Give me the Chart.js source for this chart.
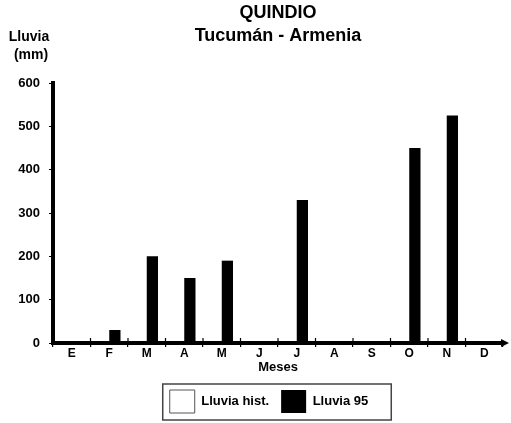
<!DOCTYPE html>
<html>
<head>
<meta charset="utf-8">
<script src="https://cdn.jsdelivr.net/npm/chart.js@4/dist/chart.umd.min.js"></script>
<style>
  html, body { margin: 0; padding: 0; background: #fff; }
  #wrap { width: 511px; height: 423px; }
</style>
</head>
<body>
<div id="wrap"><canvas id="c" width="511" height="423"></canvas></div>
<script>
// ---- Data
const months = ['E','F','M','A','M','J','J','A','S','O','N','D'];
const lluviaHist = [null,null,null,null,null,null,null,null,null,null,null,null];
const lluvia95 = [null,30,200,150,190,null,330,null,null,450,525,null];
const yTicks = [0,100,200,300,400,500,600];

const FONT = '"Liberation Sans", Arial, Helvetica, sans-serif';
const LEGEND_SHIFT = -9;

// ---- Extra drawing: y label, arrow, legend frame
const extras = {
  id: 'extras',
  afterLayout(chart) {
    // legend sits a bit left of the plot centre in the original
    const lg = chart.legend;
    lg.left += LEGEND_SHIFT;
    lg.right += LEGEND_SHIFT;
    (lg.legendHitBoxes || []).forEach(h => { h.left += LEGEND_SHIFT; });
  },
  afterDraw(chart) {
    const ctx = chart.ctx;
    const a = chart.chartArea;
    ctx.save();
    ctx.fillStyle = '#000';
    ctx.font = 'bold 14px ' + FONT;
    ctx.textAlign = 'center';
    ctx.textBaseline = 'middle';
    ctx.fillText('Lluvia', 29, 37);
    ctx.fillText('(mm)', 31, 55);

    // arrow on x axis
    const y0 = chart.scales.y.getPixelForValue(0);
    ctx.beginPath();
    ctx.moveTo(a.right - 2, y0 - 4);
    ctx.lineTo(a.right + 6, y0);
    ctx.lineTo(a.right - 2, y0 + 4);
    ctx.closePath();
    ctx.fill();

    // x ticks poke a little above the axis too
    ctx.strokeStyle = '#000';
    ctx.lineWidth = 1.2;
    const xs = chart.scales.x;
    for (let i = 1; i < months.length; i++) {
      const px = (xs.getPixelForTick(i - 1) + xs.getPixelForTick(i)) / 2;
      ctx.beginPath();
      ctx.moveTo(px, y0 - 5);
      ctx.lineTo(px, y0);
      ctx.stroke();
    }

    // legend frame
    const hb = chart.legend.legendHitBoxes;
    if (hb && hb.length) {
      const f = hb[0], l = hb[hb.length - 1];
      ctx.strokeStyle = '#444';
      ctx.lineWidth = 1.5;
      ctx.strokeRect(f.left - 7, f.top - 6, (l.left + l.width + 23) - (f.left - 7), f.height + 13);
    }
    ctx.restore();
  }
};

new Chart(document.getElementById('c'), {
  type: 'bar',
  data: {
    labels: months,
    datasets: [
      { label: 'Lluvia hist.', data: lluviaHist, backgroundColor: '#fff', borderColor: '#555', borderWidth: 1 },
      { label: 'Lluvia 95', data: lluvia95, backgroundColor: '#000', borderColor: '#000', borderWidth: 0 }
    ]
  },
  options: {
    responsive: false,
    animation: false,
    categoryPercentage: 0.6,
    barPercentage: 1.0,
    layout: { padding: { top: 0, right: 8, bottom: 0, left: 0 } },
    scales: {
      x: {
        grid: { drawOnChartArea: false, drawTicks: true, tickLength: 4, color: '#000', lineWidth: 1.2 },
        border: { display: true, color: '#000', width: 4 },
        ticks: { color: '#000', font: { family: FONT, size: 12, weight: 'bold' }, padding: -1, maxRotation: 0 },
        title: { display: true, text: 'Meses', color: '#000', font: { family: FONT, size: 13, weight: 'bold' }, padding: { top: 0, bottom: 3 } },
        afterFit: s => { s.height = 35; }
      },
      y: {
        min: 0, max: 600,
        afterBuildTicks: s => { s.ticks = yTicks.map(v => ({ value: v })); },
        grid: { drawOnChartArea: false, drawTicks: true, tickLength: 4, color: '#000', lineWidth: 1 },
        border: { display: true, color: '#000', width: 4 },
        ticks: { color: '#000', font: { family: FONT, size: 13, weight: 'bold' }, padding: 9 },
        afterFit: s => { s.width = 53; }
      }
    },
    plugins: {
      title: {
        display: true,
        fullSize: false,
        text: ['QUINDIO', 'Tucumán - Armenia'],
        color: '#000',
        font: { family: FONT, size: 18, weight: 'bold', lineHeight: 1.25 },
        padding: { top: 2, bottom: 36 }
      },
      legend: {
        position: 'bottom',
        fullSize: false,
        labels: {
          color: '#000',
          boxWidth: 25, boxHeight: 23, padding: 12,
          font: { family: FONT, size: 13, weight: 'bold' }
        }
      },
      tooltip: { enabled: false }
    }
  },
  plugins: [extras]
});
</script>
</body>
</html>
